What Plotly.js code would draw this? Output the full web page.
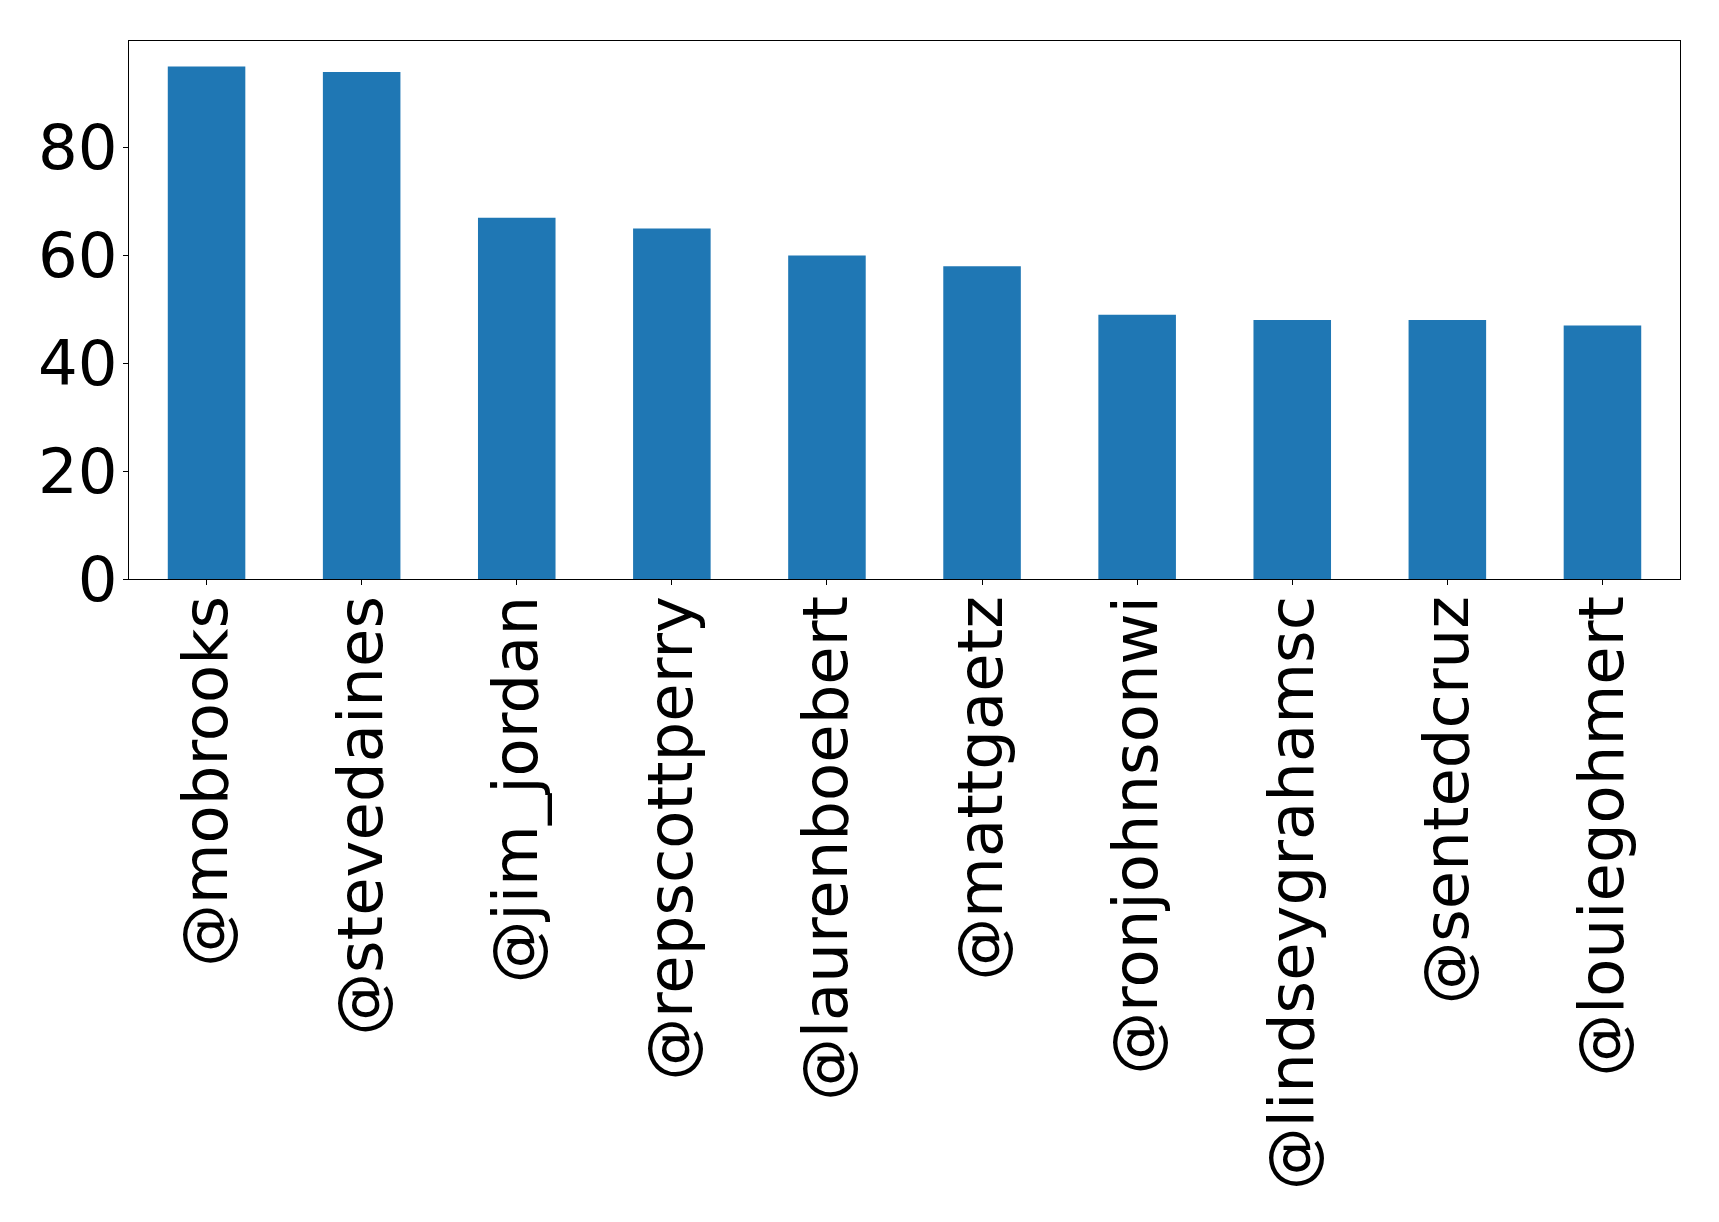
<!DOCTYPE html>
<html>
<head>
<meta charset="utf-8">
<script src="https://cdn.plot.ly/plotly-3.0.1.min.js"></script>
<style>html,body{margin:0;padding:0;background:#fff;}#chart{width:1719px;height:1222px;}</style>
</head>
<body>
<div id="chart"></div>
<script>
const accounts = ["@mobrooks","@stevedaines","@jim_jordan","@repscottperry","@laurenboebert","@mattgaetz","@ronjohnsonwi","@lindseygrahamsc","@sentedcruz","@louiegohmert"];
const counts = [95, 94, 67, 65, 60, 58, 49, 48, 48, 47];
const yTicks = [0, 20, 40, 60, 80];

const trace = {
  type: "bar",
  x: accounts.map((_, i) => i),
  y: counts,
  width: 0.5,
  marker: {color: "#1f77b4", line: {width: 0}},
  hoverinfo: "x+y"
};

const FS = 62.5;

const layout = {
  width: 1719,
  height: 1222,
  margin: {l: 129, r: 39, t: 41, b: 643},
  paper_bgcolor: "#ffffff",
  plot_bgcolor: "#ffffff",
  showlegend: false,
  font: {family: "DejaVu Sans", color: "#000000", size: FS},
  xaxis: {
    range: [-0.5, 9.5],
    tickmode: "array",
    tickvals: accounts.map((_, i) => i),
    ticktext: accounts,
    tickangle: -90,
    ticks: "outside",
    ticklen: 5,
    tickwidth: 1,
    tickcolor: "#000",
    ticklabelstandoff: -14,
    showgrid: false,
    zeroline: false,
    showline: true,
    linecolor: "#000",
    linewidth: 1,
    mirror: true,
    tickfont: {family: "DejaVu Sans", size: FS, color: "#000"}
  },
  yaxis: {
    range: [0, 99.75],
    tickmode: "array",
    tickvals: yTicks,
    ticktext: yTicks.map(String),
    ticks: "outside",
    ticklen: 5,
    tickwidth: 1,
    tickcolor: "#000",
    ticklabelstandoff: -7,
    showgrid: false,
    zeroline: false,
    showline: true,
    linecolor: "#000",
    linewidth: 1,
    mirror: true,
    tickfont: {family: "DejaVu Sans", size: FS, color: "#000"}
  }
};

Plotly.newPlot("chart", [trace], layout, {displayModeBar: false, staticPlot: true});
</script>
</body>
</html>
